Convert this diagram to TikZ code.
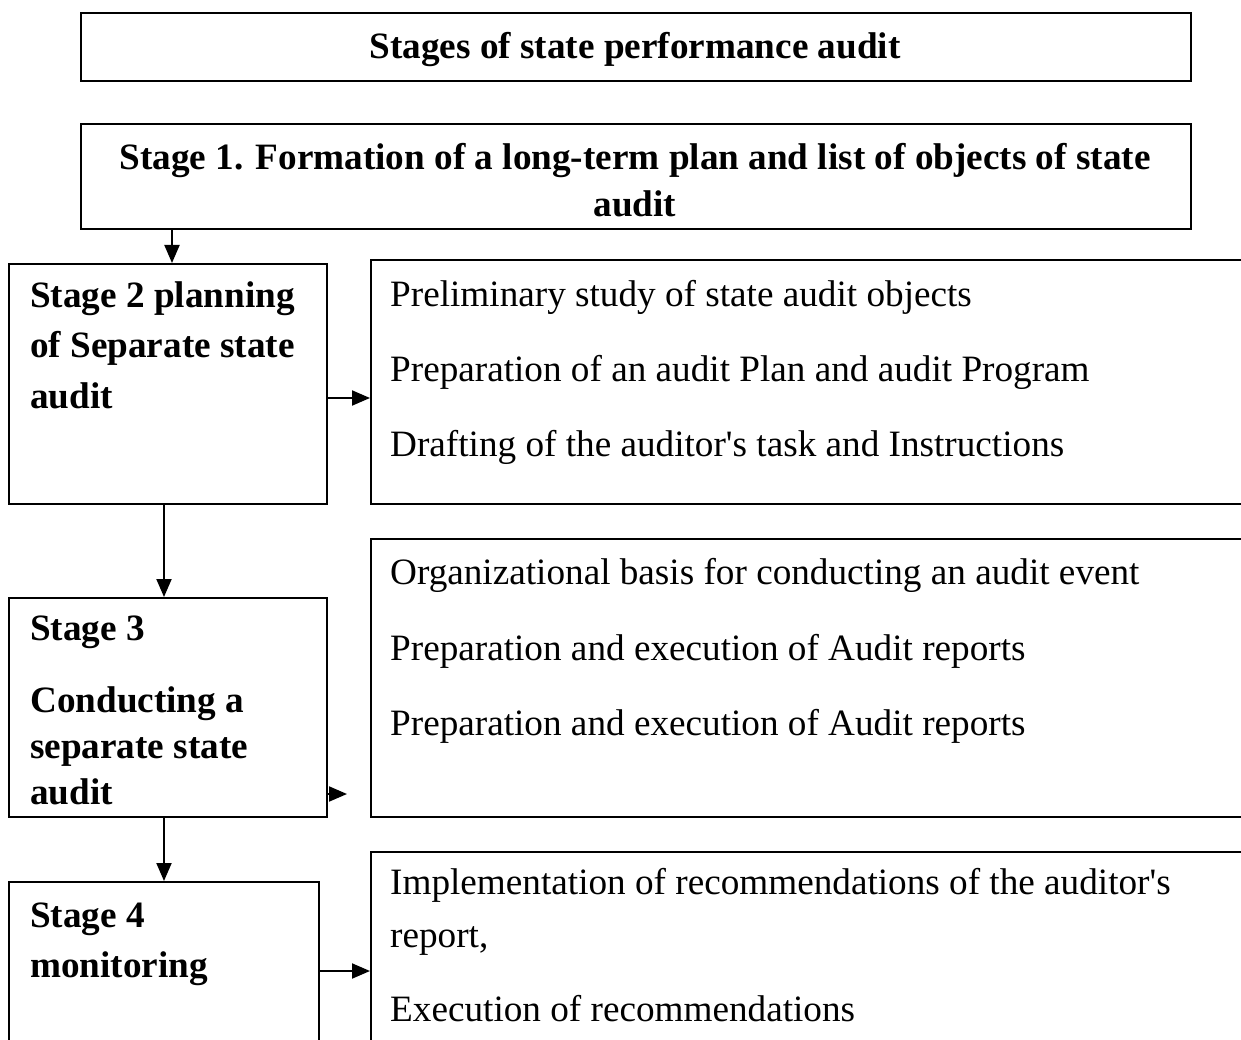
\documentclass[tikz,border=0pt]{standalone}
\usepackage{fontspec}
\setmainfont{Liberation Serif}[Ligatures=TeXOff]
\usetikzlibrary{arrows.meta}
\begin{document}
\begin{tikzpicture}[x=1pt,y=-1pt,
 box/.style={draw,line width=2pt,inner sep=0pt,anchor=north west},
 bt/.style={font=\fontsize{37.2}{40}\selectfont\bfseries,inner sep=0pt,anchor=base west},
 bc/.style={font=\fontsize{37.2}{40}\selectfont\bfseries,inner sep=0pt,anchor=base},
 rt/.style={font=\fontsize{37.2}{40}\selectfont,inner sep=0pt,anchor=base west},
 arr/.style={line width=2pt,-{Triangle[length=18pt,width=15pt]}}]
\useasboundingbox (0,0) rectangle (1241,1040);
\clip (0,0) rectangle (1241,1040);
% boxes
\node[box,minimum width=1110pt,minimum height=68pt] (title) at (80,12) {};
\node[box,minimum width=1110pt,minimum height=105pt] (s1) at (80,123) {};
\node[box,minimum width=318pt,minimum height=240pt] (s2) at (8,263) {};
\node[box,minimum width=1000pt,minimum height=244pt] (r2) at (370,259) {};
\node[box,minimum width=318pt,minimum height=219pt] (s3) at (8,597) {};
\node[box,minimum width=1000pt,minimum height=278pt] (r3) at (370,538) {};
\node[box,minimum width=310pt,minimum height=300pt] (s4) at (8,881) {};
\node[box,minimum width=1000pt,minimum height=300pt] (r4) at (370,851) {};
% texts
\node[bc] (tt) at (635,59) {Stages of state performance audit};
\node[bc] (s1a) at (635,170) {Stage 1. Formation of a long-term plan and list of objects of state};
\node[bc] (s1b) at (635,217) {audit};
\node[bt] (s2a) at (30,308) {Stage 2 planning};
\node[bt] (s2b) at (30,357) {of Separate state};
\node[bt] (s2c) at (30,408) {audit};
\node[bt] (s3a) at (30,640) {Stage 3};
\node[bt] (s3b) at (30,712) {Conducting a};
\node[bt] (s3c) at (30,758) {separate state};
\node[bt] (s3d) at (30,804) {audit};
\node[bt] (s4a) at (30,927) {Stage 4};
\node[bt] (s4b) at (30,977) {monitoring};
\node[rt] (r2a) at (390,306) {Preliminary study of state audit objects};
\node[rt] (r2b) at (390,381) {Preparation of an audit Plan and audit Program};
\node[rt] (r2c) at (390,456) {Drafting of the auditor's task and Instructions};
\node[rt] (r3a) at (390,584) {Organizational basis for conducting an audit event};
\node[rt] (r3b) at (390,660) {Preparation and execution of Audit reports};
\node[rt] (r3c) at (390,735) {Preparation and execution of Audit reports};
\node[rt] (r4a) at (390,894) {Implementation of recommendations of the auditor's};
\node[rt] (r4b) at (390,947) {report,};
\node[rt] (r4c) at (390,1021) {Execution of recommendations};
% connectors
\coordinate (c1) at (172,0);
\coordinate (c2) at (164,0);
\coordinate (h2) at (0,398);
\coordinate (e3) at (347,794);
\coordinate (h4) at (0,971);
\draw[arr] (s1.south -| c1) -- (s2.north -| c1);
\draw[arr] (s2.east |- h2) -- (r2.west |- h2);
\draw[arr] (s2.south -| c2) -- (s3.north -| c2);
\draw[arr] (s3.east |- e3) -- (e3);
\draw[arr] (s3.south -| c2) -- (s4.north -| c2);
\draw[arr] (s4.east |- h4) -- (r4.west |- h4);
\end{tikzpicture}
\end{document}
